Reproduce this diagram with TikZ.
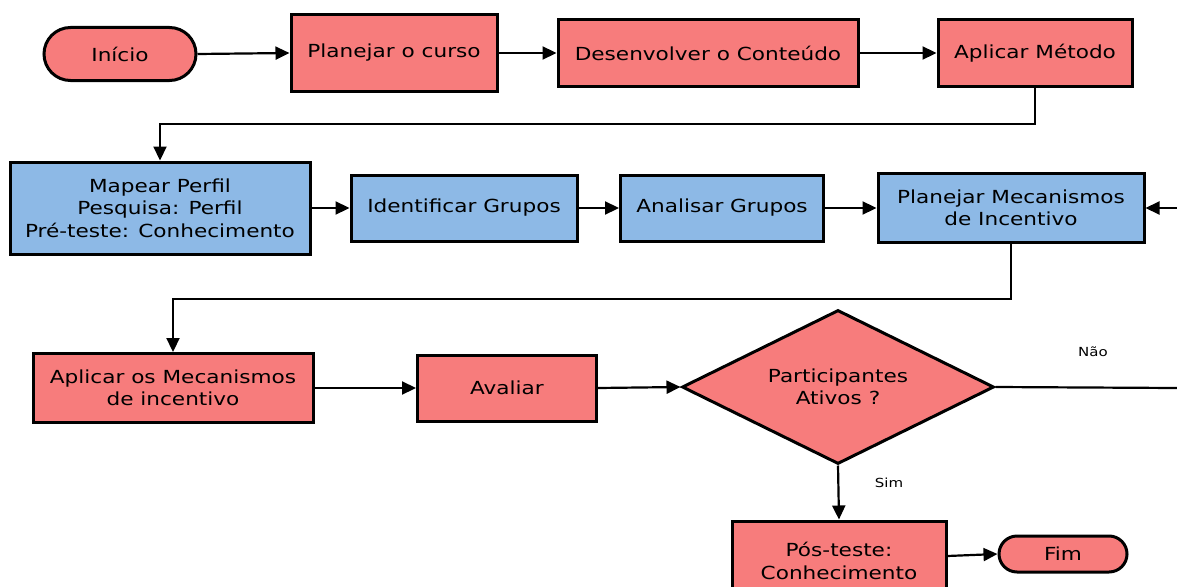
\documentclass[tikz,border=0pt]{standalone}
\usepackage{fontspec}
\setmainfont{DejaVu Sans}[FakeStretch=1.2]
\usetikzlibrary{shapes.geometric,shapes.misc,arrows.meta,positioning}
\definecolor{boxred}{RGB}{247,124,124}
\definecolor{boxblue}{RGB}{141,185,230}
\tikzset{
  base/.style={draw=black,line width=3pt,font=\fontsize{18}{22.5}\selectfont,align=center,inner sep=2pt},
  redbox/.style={base,fill=boxred,rectangle},
  bluebox/.style={base,fill=boxblue,rectangle},
  pill/.style={base,fill=boxred,rounded rectangle},
  decision/.style={base,fill=boxred,diamond,aspect=2.03},
  conn/.style={line width=2.2pt,-{Triangle[length=14pt,width=13pt]}},
  plain/.style={line width=2.2pt},
  lbl/.style={font=\fontsize{12.5}{14}\selectfont}
}
\begin{document}
\begin{tikzpicture}[x=1pt,y=-1pt]
\useasboundingbox (0,0) rectangle (1177,586);
\clip (0,0) rectangle (1177,586);
\fill[white] (0,0) rectangle (1177,586);
% row 1
\node[pill,minimum width=156pt,minimum height=53pt] (inicio) at (120,54) {Início};
\node[redbox,minimum width=206pt,minimum height=77pt] (planejar) at (394,53) {Planejar o curso};
\node[redbox,minimum width=300pt,minimum height=67pt] (desenv) at (708,53) {Desenvolver o Conteúdo};
\node[redbox,minimum width=194pt,minimum height=67pt] (metodo) at (1035,53) {Aplicar Método};
% row 2
\node[bluebox,minimum width=300pt,minimum height=92pt] (mapear) at (160,208) {Mapear Perfil\\Pesquisa: Perfil\\Pré-teste: Conhecimento};
\node[bluebox,minimum width=226pt,minimum height=66pt] (ident) at (464,208) {Identificar Grupos};
\node[bluebox,minimum width=203pt,minimum height=66pt] (anal) at (722,208) {Analisar Grupos};
\node[bluebox,minimum width=266pt,minimum height=69pt] (planmec) at (1011,208) {Planejar Mecanismos\\de Incentivo};
% row 3
\node[redbox,minimum width=280pt,minimum height=69pt] (aplicmec) at (173,388) {Aplicar os Mecanismos\\de incentivo};
\node[redbox,minimum width=179pt,minimum height=66pt] (avaliar) at (507,388) {Avaliar};
\node[decision,minimum width=312pt,minimum height=154pt,inner sep=0pt] (dec) at (838,387) {Participantes\\Ativos ?};
% row 4
\node[redbox,minimum width=214pt,minimum height=80pt] (pos) at (839,561) {Pós-teste:\\Conhecimento};
\node[pill,minimum width=132pt,minimum height=36pt] (fim) at (1063,554) {Fim};
% off-page ends
\coordinate (rin) at (1177,208);
\coordinate (rout) at (1177,388);
% connectors
\draw[conn] (inicio.east) -- (planejar.west);
\draw[conn] (planejar.east) -- (desenv.west);
\draw[conn] (desenv.east) -- (metodo.west);
\draw[conn] (metodo.south) -- ++(0,36) -| (mapear.north);
\draw[conn] (mapear.east) -- (ident.west);
\draw[conn] (ident.east) -- (anal.west);
\draw[conn] (anal.east) -- (planmec.west);
\draw[conn] (rin) -- (planmec.east);
\draw[conn] (planmec.south) -- ++(0,55) -| (aplicmec.north);
\draw[conn] (aplicmec.east) -- (avaliar.west);
\draw[conn] (avaliar.east) -- (dec.west);
\draw[plain] (dec.east) -- (rout);
\draw[conn] (dec.south) -- (pos.north);
\draw[conn] (pos.east |- 0,556) -- (fim.west);
% labels
\node[lbl] (nao) at (1093,352) {Não};
\node[lbl] (sim) at (889,483) {Sim};
\end{tikzpicture}
\end{document}
